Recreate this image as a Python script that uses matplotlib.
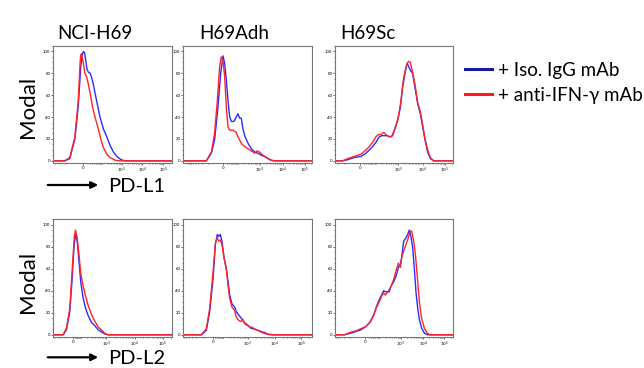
### flow histograms, PD-L1 / PD-L2 on the three H69 lines
import numpy as np
import matplotlib
matplotlib.use('Agg')
import matplotlib.pyplot as plt
from matplotlib.lines import Line2D
from matplotlib.ticker import MultipleLocator

plt.rcParams['font.family'] = ['Lato', 'DejaVu Sans']

# x is in channel units (0-100 across the axis), y is % of mode
nci_l1_iso_x = [0, 9.9, 14.1, 18.4, 21.2, 23.4, 24.5, 25.4, 26.5, 27.5, 28.5, 29.7, 31.3, 32.5, 33.9, 35.3, 37.6, 39.5, 42.4, 45.2, 48.0, 50.8, 53.7, 57.3, 60.7, 100]
nci_l1_iso_y = [0, 0, 2, 20, 50, 87, 96, 100, 99, 92, 84, 81, 80, 76, 70, 62, 50, 40, 29, 22, 14, 8, 4, 1, 0, 0]
nci_l1_ifn_x = [0, 9.9, 14.1, 18.4, 21.2, 22.9, 23.4, 24.0, 25.4, 26.8, 28.2, 29.7, 31.3, 33.3, 35.3, 37.6, 40.4, 42.4, 45.2, 48.0, 52.3, 56, 100]
nci_l1_ifn_y = [0, 0, 3, 22, 55, 92, 97, 98, 90, 80, 77, 70, 61, 49, 40, 31, 19, 12, 6, 3, 0.5, 0, 0]

adh_l1_iso_x = [0, 18.1, 22.0, 24.5, 27.1, 29.2, 31.0, 32.3, 33.6, 34.9, 36.2, 37.5, 39.5, 41.3, 42.6, 43.9, 45.2, 46.5, 47.8, 50.4, 53.0, 55.6, 58.1, 60.7, 63.3, 65.9, 68.5, 71.1, 100]
adh_l1_iso_y = [0, 0, 7, 19, 49, 80, 96, 89, 74, 55, 40, 36, 36, 40, 43, 39, 39, 29, 23, 16, 11, 8, 7, 5, 4, 2, 0.6, 0, 0]
adh_l1_ifn_x = [0, 18.1, 22.0, 24.5, 26.6, 28.4, 29.7, 31.0, 32.3, 33.6, 34.9, 36.2, 38.8, 41.3, 42.6, 45.2, 47.8, 50.4, 53.0, 55.6, 57.4, 59.4, 62.0, 64.6, 67.2, 69.8, 100]
adh_l1_ifn_y = [0, 0, 8, 25, 55, 86, 95, 92, 77, 49, 31, 28, 28, 26, 22, 16, 13, 11, 9, 7, 9, 8, 5, 3, 1, 0, 0]

sc_l1_iso_x = [0, 6.5, 10.7, 16.4, 22.0, 26.3, 29.1, 31.9, 34.7, 37.6, 39.8, 41.8, 44.1, 46.0, 48.0, 50.3, 53.1, 55.4, 57.3, 59.3, 61.0, 62.1, 63.8, 65.8, 67.8, 70.1, 72.3, 74.3, 76.3, 78.5, 80.8, 83.6, 100]
sc_l1_iso_y = [0, 0, 1, 3, 4, 7, 10, 13, 17, 22, 23, 23, 23, 22, 22, 28, 37, 49, 67, 80, 89, 87, 83, 80, 67, 52, 43, 31, 19, 8, 2, 0, 0]
sc_l1_ifn_x = [0, 6.5, 10.7, 16.4, 22.0, 26.3, 29.1, 31.9, 34.7, 36.7, 39.0, 41.2, 43.2, 46.0, 48.9, 51.1, 53.7, 55.9, 57.9, 60.2, 62.1, 63.8, 65.8, 67.8, 70.1, 72.3, 74.3, 76.3, 78.5, 80.8, 83.6, 100]
sc_l1_ifn_y = [0, 0, 2, 4, 6, 10, 13, 17, 22, 24, 24, 26, 24, 22, 23, 30, 40, 55, 74, 86, 91, 90, 81, 70, 53, 45, 33, 20, 10, 3, 0, 0]

nci_l2_iso_x = [0, 8.5, 11.3, 14.1, 16.1, 17.8, 19.2, 20.3, 21.8, 23.4, 25.4, 27.4, 29.7, 32.5, 35.3, 38.1, 41.0, 43.8, 46.6, 100]
nci_l2_iso_y = [0, 0, 4.5, 21, 51, 82, 92, 85, 67, 47, 33, 24, 17, 11, 8, 4.5, 2.4, 0.6, 0, 0]
nci_l2_ifn_x = [0, 8.5, 11.3, 14.1, 16.1, 17.8, 18.9, 20.3, 21.8, 23.4, 25.4, 27.4, 29.7, 32.5, 35.3, 38.1, 41.0, 43.8, 46.6, 100]
nci_l2_ifn_y = [0, 0, 6, 24, 58, 88, 95, 88, 73, 55, 44, 35, 26, 18, 12, 7, 4, 1, 0, 0]

adh_l2_iso_x = [0, 14.2, 18.1, 20.7, 23.3, 25.1, 26.6, 27.6, 28.9, 30.2, 31.8, 33.6, 34.9, 36.2, 38.0, 40.1, 41.3, 43.2, 45.2, 47.8, 50.4, 52.5, 54.3, 56.1, 58.1, 60.7, 63.3, 65.9, 69.8, 100]
adh_l2_iso_y = [0, 0, 4, 21, 51, 82, 91, 89, 91, 85, 70, 60, 48, 36, 28, 25, 21, 18, 15, 11, 8.5, 6, 5.5, 5, 4, 3, 2, 0.6, 0, 0]
adh_l2_ifn_x = [0, 14.2, 18.1, 20.7, 23.3, 25.1, 26.4, 27.6, 28.9, 30.2, 31.8, 33.6, 34.9, 36.2, 38.0, 40.1, 41.3, 43.2, 45.2, 46.5, 47.8, 49.9, 51.7, 53.5, 55.6, 58.1, 60.7, 63.3, 67.2, 100]
adh_l2_ifn_y = [0, 0, 5.5, 24, 57, 83, 88, 85, 86, 82, 70, 59, 45, 33, 25, 22, 16, 13, 12, 14, 10, 8.5, 7, 7, 5, 4, 2.4, 1.2, 0, 0]

sc_l2_iso_x = [0, 7.9, 13.6, 17.8, 22.0, 26.3, 29.9, 32.8, 35.6, 37.6, 39.5, 41.2, 42.7, 44.1, 46.0, 47.5, 49.7, 51.7, 53.7, 55.4, 56.5, 58.2, 60.2, 61.6, 63.0, 64.4, 65.8, 67.2, 68.6, 70.1, 71.5, 73.4, 75.7, 78.5, 100]
sc_l2_iso_y = [0, 0, 1.5, 3, 4.5, 7.6, 12, 18, 27, 32, 36, 40, 39, 39, 39, 44, 48, 53, 61, 64, 70, 85, 88, 91, 95, 89, 79, 61, 39, 24, 14, 6, 1.5, 0, 0]
sc_l2_ifn_x = [0, 7.9, 13.6, 17.8, 22.0, 26.3, 29.9, 32.8, 35.6, 37.6, 39.5, 41.2, 42.7, 44.1, 46.0, 47.5, 49.7, 51.7, 53.7, 55.4, 56.5, 58.2, 60.2, 62.1, 63.8, 65.0, 66.7, 68.4, 70.1, 71.5, 73.4, 75.7, 78.0, 80.8, 100]
sc_l2_ifn_y = [0, 0, 2.4, 3.6, 5.5, 7.6, 11.5, 17.6, 26, 30, 35, 38, 36, 38, 41, 44, 50, 58, 65, 61, 70, 76, 82, 88, 94, 94, 85, 70, 48, 30, 15, 6, 1.5, 0, 0]

# channel position of 0, 10^3, 10^4, 10^5 on each panel's biex axis
xtick_labels = ['0', r'$10^3$', r'$10^4$', r'$10^5$']
nci_l1_ticks = [25.4, 58.0, 75.0, 92.5]
adh_l1_ticks = [31.0, 59.4, 77.5, 94.3]
sc_l1_ticks = [21.2, 53.7, 74.3, 93.2]
nci_l2_ticks = [16.9, 44.6, 68.6, 92.4]
adh_l2_ticks = [23.3, 50.4, 71.1, 91.7]
sc_l2_ticks = [25.4, 55.9, 74.9, 92.7]
ytick_vals = [0, 20, 40, 60, 80, 100]

titles = ['NCI-H69', 'H69Adh', 'H69Sc']
markers = ['PD-L1', 'PD-L2']
legend_labels = ['+ Iso. IgG mAb', '+ anti-IFN-\u03b3 mAb']

blue = '#2b2bff'
red = '#ff2424'

W, H = 644, 368
fig = plt.figure(figsize=(W / 100, H / 100), dpi=100)

def box(x0, x1, y0, y1):
    return [x0 / W, 1 - y1 / H, (x1 - x0) / W, (y1 - y0) / H]

def minor_pos(ticks):
    # rough asinh fit to place the minor decade ticks
    p0, p3, p4, p5 = ticks
    b = (p5 - p3) / (2 * np.log(10))
    w = 1e3 / np.sinh((p3 - p0) / b)
    vals = []
    for dec in [10, 100, 1000, 10000]:
        vals += [k * dec for k in range(2, 10)]
    vals += [-k * 100 for k in range(1, 10)] + [100, 200000]
    pos = [p0 + b * np.arcsinh(v / w) for v in vals]
    return [p for p in pos if 0 < p < 100]

panels = [
    (box(53, 172, 46, 163), nci_l1_iso_x, nci_l1_iso_y, nci_l1_ifn_x, nci_l1_ifn_y, nci_l1_ticks),
    (box(183, 312, 46, 163), adh_l1_iso_x, adh_l1_iso_y, adh_l1_ifn_x, adh_l1_ifn_y, adh_l1_ticks),
    (box(335, 453, 46, 163), sc_l1_iso_x, sc_l1_iso_y, sc_l1_ifn_x, sc_l1_ifn_y, sc_l1_ticks),
    (box(53, 172, 219, 337), nci_l2_iso_x, nci_l2_iso_y, nci_l2_ifn_x, nci_l2_ifn_y, nci_l2_ticks),
    (box(183, 312, 219, 337), adh_l2_iso_x, adh_l2_iso_y, adh_l2_ifn_x, adh_l2_ifn_y, adh_l2_ticks),
    (box(335, 453, 219, 337), sc_l2_iso_x, sc_l2_iso_y, sc_l2_ifn_x, sc_l2_ifn_y, sc_l2_ticks),
]

for rect, bx, by, rx, ry, ticks in panels:
    ax = fig.add_axes(rect)
    ax.plot(bx, by, color=blue, lw=1.0)
    ax.plot(rx, ry, color=red, lw=1.0)
    ax.set_xlim(0, 100)
    ax.set_ylim(-2, 105)
    ax.set_xticks(ticks)
    ax.set_xticklabels(xtick_labels)
    ax.set_xticks(minor_pos(ticks), minor=True)
    ax.set_yticks(ytick_vals)
    ax.yaxis.set_minor_locator(MultipleLocator(5))
    ax.tick_params(which='both', direction='out', width=0.5, color='#333333',
                   labelsize=3.1, pad=0.3)
    ax.tick_params(which='major', length=1.6)
    ax.tick_params(which='minor', length=0.9)
    for sp in ax.spines.values():
        sp.set_color('#777777')
        sp.set_linewidth(0.8)

# column titles
fig.text(57 / W, 1 - 39 / H, titles[0], fontsize=13.5, va='baseline')
fig.text(199 / W, 1 - 39 / H, titles[1], fontsize=13.5, va='baseline')
fig.text(340 / W, 1 - 39 / H, titles[2], fontsize=13.5, va='baseline')

# row labels, arrows and marker names
for yc, ybase, name in [(107, 192, markers[0]), (282, 364.3, markers[1])]:
    fig.text(28 / W, 1 - yc / H, 'Modal', fontsize=16, rotation=90,
             ha='center', va='center')
    fig.text(108 / W, 1 - ybase / H, name, fontsize=14.5, va='baseline')
    yarr = 1 - (ybase - 7) / H
    fig.add_artist(matplotlib.patches.FancyArrowPatch(
        (45 / W, yarr), (101 / W, yarr), transform=fig.transFigure,
        arrowstyle='-|>', mutation_scale=10, lw=1.6, color='black'))

handles = [Line2D([], [], color='#1a1a9e', lw=2.2),
           Line2D([], [], color='#ff1a1a', lw=2.2)]
fig.legend(handles, legend_labels, loc='upper left',
           bbox_to_anchor=(465 / W, 1 - 62 / H), frameon=False, fontsize=13.5,
           handlelength=1.44, handletextpad=0.32, labelspacing=0.42,
           borderpad=0, borderaxespad=0)

plt.savefig('out.png', dpi=100)
